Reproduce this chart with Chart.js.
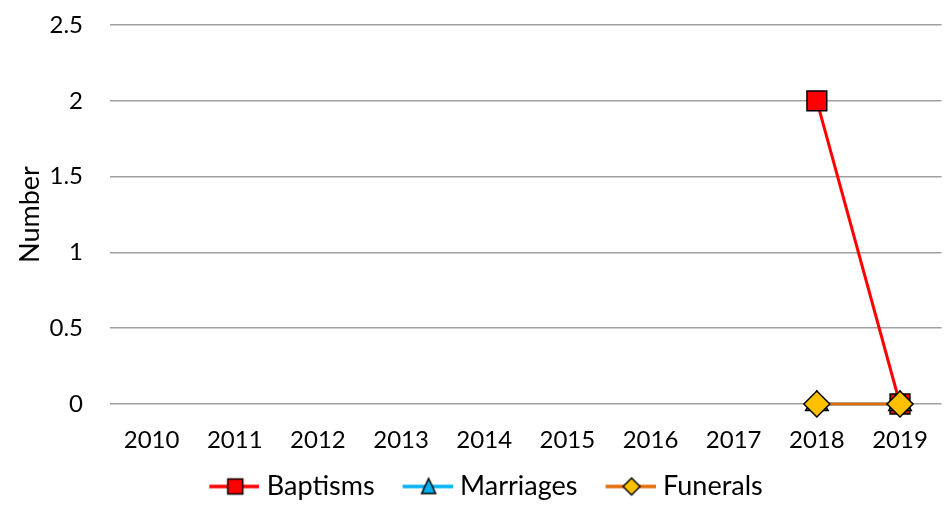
<!DOCTYPE html>
<html>
<head>
<meta charset="utf-8">
<script src="https://cdn.jsdelivr.net/npm/chart.js@4"></script>
<style>
  html, body { margin: 0; padding: 0; background: #fff; }
  #wrap { width: 950px; height: 510px; }
</style>
</head>
<body>
<div id="wrap"><canvas id="chart" width="950" height="510"></canvas></div>
<script>
// data
const years = ['2010', '2011', '2012', '2013', '2014', '2015', '2016', '2017', '2018', '2019'];
const baptisms = [null, null, null, null, null, null, null, null, 2, 0];
const marriages = [null, null, null, null, null, null, null, null, 0, 0];
const funerals = [null, null, null, null, null, null, null, null, 0, 0];
const yTicks = [0, 0.5, 1, 1.5, 2, 2.5];

const FONT = 'Lato, "Open Sans", sans-serif';

// legend swatch: a line with the marker in its middle (left margin spaces the items)
function legendSwatch(color, fill, shape, size) {
    const c = document.createElement('canvas');
    c.width = 81; c.height = 22;
    const g = c.getContext('2d');
    const x0 = 31, cx = x0 + 26, cy = 11, h = size / 2;
    g.strokeStyle = color;
    g.lineWidth = 3.5;
    g.beginPath(); g.moveTo(x0, cy); g.lineTo(x0 + 50, cy); g.stroke();
    g.fillStyle = fill;
    g.strokeStyle = '#000';
    g.lineWidth = 1.5;
    g.beginPath();
    if (shape === 'rect') {
        g.rect(cx - h, cy - h, size, size);
    } else if (shape === 'triangle') {
        g.moveTo(cx, cy - h - 1); g.lineTo(cx + h, cy + h); g.lineTo(cx - h, cy + h); g.closePath();
    } else {
        g.moveTo(cx, cy - h); g.lineTo(cx + h, cy); g.lineTo(cx, cy + h); g.lineTo(cx - h, cy); g.closePath();
    }
    g.fill(); g.stroke();
    return c;
}

const swatches = [
    legendSwatch('#ff0000', '#ff0000', 'rect', 15),
    legendSwatch('#00b0f0', '#00b0f0', 'triangle', 14),
    legendSwatch('#e46c0a', '#ffc000', 'diamond', 17)
];

new Chart(document.getElementById('chart'), {
    type: 'line',
    data: {
        labels: years,
        datasets: [
            {
                label: 'Baptisms',
                data: baptisms,
                borderColor: '#ff0000',
                backgroundColor: '#ff0000',
                borderWidth: 3,
                pointStyle: 'rect',
                pointRadius: 14,
                pointBorderColor: '#000',
                pointBorderWidth: 1.5,
                clip: false,
                order: 3
            },
            {
                label: 'Marriages',
                data: marriages,
                borderColor: '#00b0f0',
                backgroundColor: '#00b0f0',
                borderWidth: 3,
                pointStyle: 'triangle',
                pointRadius: 13,
                pointBorderColor: '#000',
                pointBorderWidth: 1.5,
                clip: false,
                order: 2
            },
            {
                label: 'Funerals',
                data: funerals,
                borderColor: '#e46c0a',
                backgroundColor: '#ffc000',
                borderWidth: 3,
                pointStyle: 'rectRot',
                pointRadius: 13,
                pointBorderColor: '#000',
                pointBorderWidth: 1.5,
                clip: false,
                order: 1
            }
        ]
    },
    options: {
        responsive: false,
        animation: false,
        layout: { autoPadding: false, padding: { top: 25, right: 3, bottom: 0, left: 0 } },
        plugins: {
            tooltip: { enabled: false },
            legend: {
                position: 'bottom',
                labels: {
                    usePointStyle: true,
                    pointStyleWidth: 69,
                    padding: 3,
                    color: '#000',
                    font: { family: FONT, size: 27, lineHeight: 1 },
                    generateLabels: chart => chart.data.datasets.map((ds, i) => ({
                        text: ds.label,
                        datasetIndex: i,
                        pointStyle: swatches[i],
                        fontColor: '#000',
                        lineWidth: 0,
                        hidden: false
                    }))
                }
            }
        },
        scales: {
            x: {
                offset: true,
                grid: { display: false, drawTicks: false },
                border: { display: false },
                ticks: { color: '#000', padding: 22, font: { family: FONT, size: 24 } },
                afterFit: s => { s.height = 66; }
            },
            y: {
                min: 0,
                max: 2.5,
                afterBuildTicks: s => { s.ticks = yTicks.map(v => ({ value: v })); },
                grid: { color: '#a0a0a0', lineWidth: 1.5, drawTicks: false },
                border: { display: false },
                ticks: {
                    color: '#000',
                    padding: 27,
                    font: { family: FONT, size: 24 },
                    callback: v => String(v)
                },
                title: { display: true, text: 'Number', color: '#000', font: { family: FONT, size: 27 }, padding: { top: 14, bottom: 0 } },
                afterFit: s => { s.width = 110; s.paddingTop = 0; s.paddingBottom = 0; }
            }
        }
    }
});
</script>
</body>
</html>
